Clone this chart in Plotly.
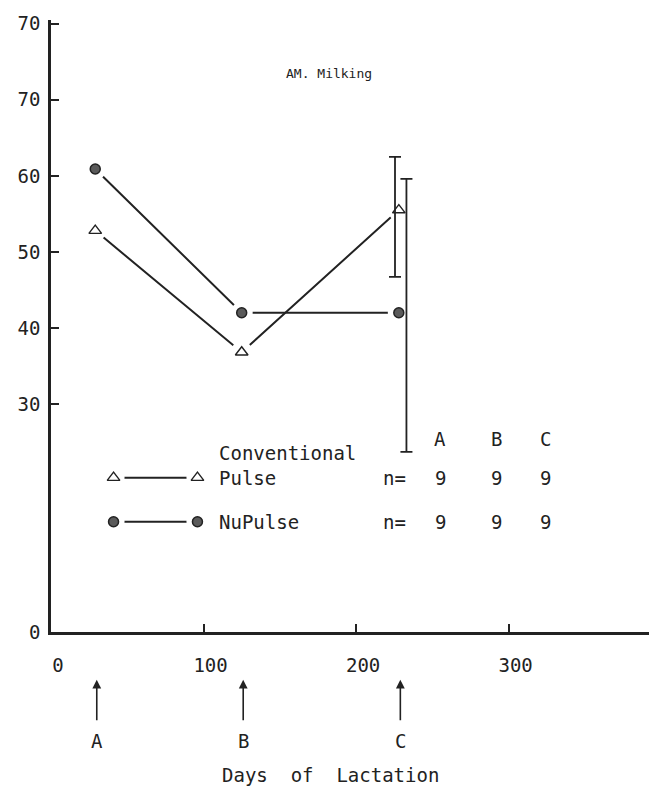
import plotly.graph_objects as go

# ---- data ----
days = [29, 125, 228]                      # sampling points A, B, C (days of lactation)
sample_labels = ["A", "B", "C"]
conv_pulse = [52.8, 36.8, 55.5]            # Conventional Pulse (triangles)
nupulse = [60.9, 42.0, 42.0]               # NuPulse (circles)

# error bars only at sample C (drawn slightly offset, as in the original)
err_days_conv = [225.5]
err_conv_mean = [55.5]
err_conv_plus = [7.0]
err_conv_minus = [8.8]
err_days_nu = [233]
err_nu_mean = [42.0]
err_nu_plus = [17.6]
err_nu_minus = [18.3]

n_conv = [9, 9, 9]
n_nu = [9, 9, 9]

y_tickvals = [0, 30, 40, 50, 60, 70, 80]
y_ticktext = ["0", "30", "40", "50", "60", "70", "70"]
x_tickvals = [0, 100, 200, 300]
x_ticktext = ["0", "100", "200", "300"]

# legend key positions (data units)
key_x = [41, 96]
key_y_conv = 20.3
key_y_nu = 14.5

INK = "#222222"
FONT = "DejaVu Sans Mono"

fig = go.Figure()

def series(x, y):
    # connecting line
    fig.add_trace(go.Scatter(x=x, y=y, mode="lines", line=dict(color=INK, width=2),
                             showlegend=False, hoverinfo="skip"))
    # white halo to create the small gaps between line and symbol
    fig.add_trace(go.Scatter(x=x, y=y, mode="markers",
                             marker=dict(symbol="circle", size=22, color="white"),
                             showlegend=False, hoverinfo="skip"))

series(days, conv_pulse)
series(days, nupulse)
series(key_x, [key_y_conv, key_y_conv])
series(key_x, [key_y_nu, key_y_nu])

# error bars
fig.add_trace(go.Scatter(x=err_days_conv, y=err_conv_mean, mode="markers",
                         marker=dict(opacity=0, size=1),
                         error_y=dict(type="data", symmetric=False, array=err_conv_plus,
                                      arrayminus=err_conv_minus, color=INK, thickness=1.8, width=6),
                         showlegend=False, hoverinfo="skip"))
fig.add_trace(go.Scatter(x=err_days_nu, y=err_nu_mean, mode="markers",
                         marker=dict(opacity=0, size=1),
                         error_y=dict(type="data", symmetric=False, array=err_nu_plus,
                                      arrayminus=err_nu_minus, color=INK, thickness=1.8, width=6),
                         showlegend=False, hoverinfo="skip"))

tri = dict(symbol="triangle-up-open", size=11, color=INK, line=dict(width=1.4, color=INK))
dot = dict(symbol="circle", size=10, color="#5a5a5a", line=dict(width=1.5, color=INK))

fig.add_trace(go.Scatter(x=days, y=conv_pulse, mode="markers", marker=tri,
                         name="Conventional Pulse", showlegend=False))
fig.add_trace(go.Scatter(x=days, y=nupulse, mode="markers", marker=dot,
                         name="NuPulse", showlegend=False))
fig.add_trace(go.Scatter(x=key_x, y=[key_y_conv] * 2, mode="markers", marker=tri,
                         showlegend=False, hoverinfo="skip"))
fig.add_trace(go.Scatter(x=key_x, y=[key_y_nu] * 2, mode="markers", marker=dot,
                         showlegend=False, hoverinfo="skip"))

ann = []
tf = dict(family=FONT, size=19, color=INK)
# title
ann.append(dict(x=182.5, y=73.5, xref="x", yref="y", text="AM. Milking", showarrow=False,
                font=dict(family=FONT, size=13, color=INK)))
# legend text
ann.append(dict(x=109, y=23.6, xref="x", yref="y", text="Conventional", showarrow=False,
                xanchor="left", font=tf))
ann.append(dict(x=109, y=20.3, xref="x", yref="y", text="Pulse", showarrow=False,
                xanchor="left", font=tf))
ann.append(dict(x=109, y=14.5, xref="x", yref="y", text="NuPulse", showarrow=False,
                xanchor="left", font=tf))
# n table
col_x = [255, 292, 324]
for lab, cx in zip(sample_labels, col_x):
    ann.append(dict(x=cx, y=25.4, xref="x", yref="y", text=lab, showarrow=False, font=tf))
for cx, n1, n2 in zip(col_x, n_conv, n_nu):
    ann.append(dict(x=cx, y=20.3, xref="x", yref="y", text=str(n1), showarrow=False, font=tf))
    ann.append(dict(x=cx, y=14.5, xref="x", yref="y", text=str(n2), showarrow=False, font=tf))
for yy in [20.3, 14.5]:
    ann.append(dict(x=225, y=yy, xref="x", yref="y", text="n=", showarrow=False, font=tf))
# arrows marking the sample days
for d, lab in zip(days, sample_labels):
    ann.append(dict(x=d + 1, y=-0.078, xref="x", yref="paper", text=lab, showarrow=True,
                    ax=0, ay=61, arrowhead=2, arrowsize=1.1, arrowwidth=1.6,
                    arrowcolor=INK, borderpad=9, font=tf))
# x axis title
ann.append(dict(x=0.468, y=-0.233, xref="paper", yref="paper", yanchor="middle",
                text="Days  of  Lactation", showarrow=False, font=tf))

fig.update_layout(
    width=649, height=796, autosize=False,
    margin=dict(l=51, r=0, t=20, b=164),
    paper_bgcolor="white", plot_bgcolor="white",
    annotations=ann,
    xaxis=dict(range=[0, 392], showgrid=False, zeroline=False, showline=True,
               linecolor=INK, linewidth=2.5, ticks="inside", ticklen=8, tickwidth=2,
               tickcolor=INK, tickvals=x_tickvals, ticktext=x_ticktext,
               tickfont=tf, ticklabelstandoff=14, ticklabelshift=7),
    yaxis=dict(range=[0, 80.5], showgrid=False, zeroline=False, showline=True,
               linecolor=INK, linewidth=2.5, ticks="inside", ticklen=8, tickwidth=2,
               tickcolor=INK, tickvals=y_tickvals, ticktext=y_ticktext,
               tickfont=tf, ticklabelstandoff=4),
)

fig.write_html("out.html")
